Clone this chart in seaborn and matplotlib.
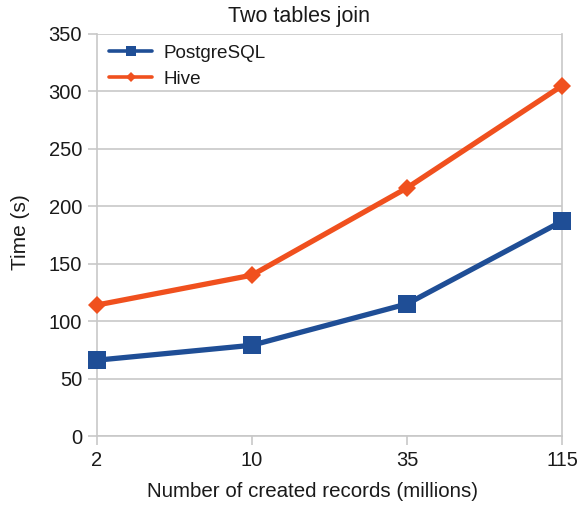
import matplotlib
matplotlib.use("Agg")
import matplotlib.pyplot as plt
from matplotlib.lines import Line2D
import seaborn as sns
import pandas as pd

records = ["2", "10", "35", "115"]
postgresql = [66, 79, 115, 187]
hive = [114, 140, 216, 305]
y_ticks = [0, 50, 100, 150, 200, 250, 300, 350]

df = pd.DataFrame({
    "records": records * 2,
    "time": postgresql + hive,
    "system": ["PostgreSQL"] * len(records) + ["Hive"] * len(records),
})

sns.set_theme(style="white")
plt.rcParams["font.family"] = ["Liberation Sans", "DejaVu Sans"]

text_color = "#1a1a1a"
grid_color = "#c8c8c8"

fig = plt.figure(figsize=(5.84, 5.07), dpi=100)
ax = fig.add_axes([0.1656, 0.140, 0.797, 0.793])

palette = {"PostgreSQL": "#1f4e96", "Hive": "#f0501e"}
markers = {"PostgreSQL": "s", "Hive": "D"}
sizes = {"PostgreSQL": 13, "Hive": 9}

for name in ["PostgreSQL", "Hive"]:
    sub = df[df["system"] == name]
    sns.lineplot(data=sub, x="records", y="time", ax=ax, color=palette[name],
                 linewidth=3.8, marker=markers[name], markersize=sizes[name],
                 markeredgewidth=0, sort=False, clip_on=False, zorder=3,
                 legend=False)

ax.set_xlim(0, len(records) - 1)
ax.set_ylim(0, 350)
ax.set_yticks(y_ticks)
ax.yaxis.grid(True, color=grid_color, linewidth=1.2)
ax.xaxis.grid(False)

ax.spines["top"].set_visible(False)
for side in ["left", "right", "bottom"]:
    ax.spines[side].set_color(grid_color)
    ax.spines[side].set_linewidth(1.2)

ax.tick_params(axis="both", which="both", direction="out", length=6.5, width=1.2,
               color=grid_color, labelsize=14.5, labelcolor=text_color, pad=4)
ax.tick_params(axis="x", bottom=True)
ax.tick_params(axis="y", left=True)

fig.text(0.512, 0.968, "Two tables join", fontsize=15.5, color=text_color,
         ha="center", va="center")
ax.set_xlabel("Number of created records (millions)", fontsize=14.8, color=text_color)
ax.xaxis.set_label_coords(0.463, -0.115)
ax.set_ylabel("Time (s)", fontsize=15, color=text_color)
ax.yaxis.set_label_coords(-0.143, 0.506)

handles = [
    Line2D([], [], color=palette["PostgreSQL"], linewidth=2.6, marker="s",
           markersize=7, markeredgewidth=0),
    Line2D([], [], color=palette["Hive"], linewidth=2.6, marker="D",
           markersize=5.5, markeredgewidth=0),
]
leg = ax.legend(handles, ["PostgreSQL", "Hive"], loc="upper left",
                bbox_to_anchor=(0.026, 0.973), frameon=False, fontsize=13.6,
                handlelength=2.3, handletextpad=0.6, borderaxespad=0,
                borderpad=0, labelspacing=0.45)
for t in leg.get_texts():
    t.set_color(text_color)

fig.savefig("out.png", dpi=100)
